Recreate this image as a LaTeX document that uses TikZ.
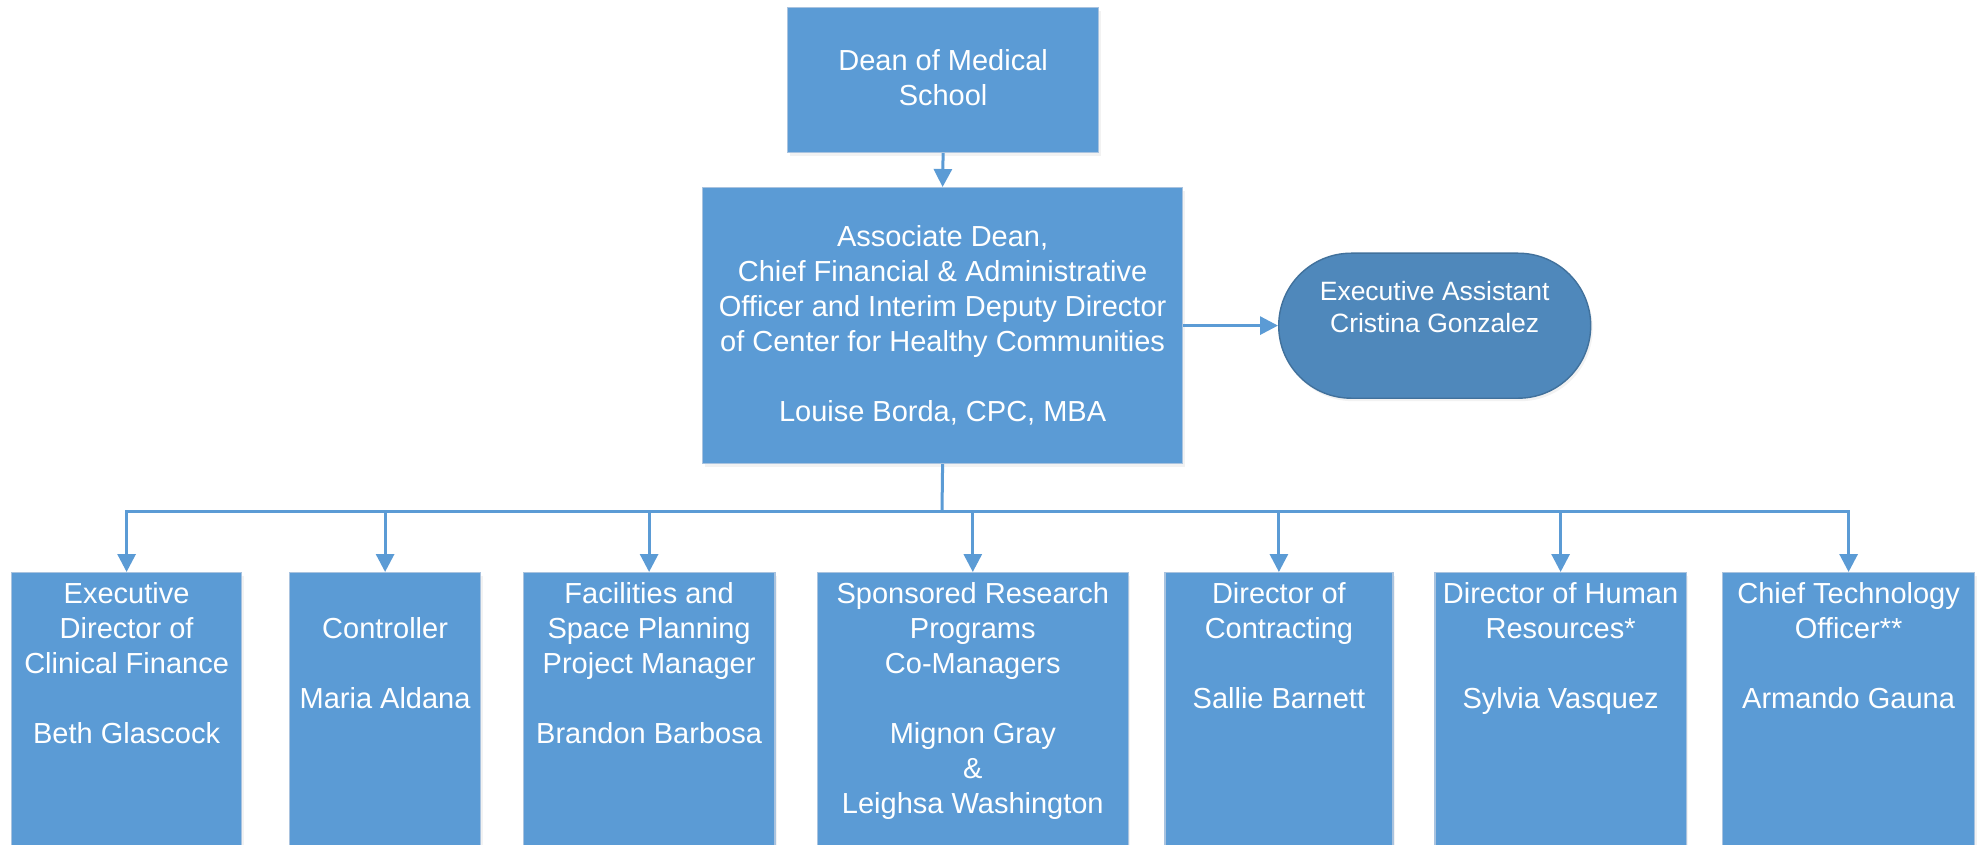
\documentclass[tikz,border=0pt]{standalone}
\usepackage{fontspec}
\setmainfont{Liberation Sans}
\usetikzlibrary{arrows.meta,shadows,calc}
\definecolor{boxblue}{HTML}{5B9BD5}
\definecolor{boxline}{HTML}{A9C3DF}
\definecolor{ellfill}{HTML}{4F88BB}
\definecolor{ellline}{HTML}{41719C}
\newcommand{\mylines}[1]{\begin{tabular}[t]{@{}c@{}}#1\end{tabular}}
\begin{document}
\begin{tikzpicture}[x=1pt,y=-1pt,
  shadowed/.style={drop shadow={opacity=0.10,shadow xshift=2pt,shadow yshift=-3pt}},
  box/.style={draw=boxline, line width=1.2pt, fill=boxblue, inner sep=0pt, anchor=north west, shadowed},
  pill/.style={draw=ellline, line width=1.4pt, fill=ellfill, inner sep=0pt, anchor=north west, rounded corners=72.5pt, shadowed},
  txt/.style={text=white, inner sep=0pt, anchor=base, font=\fontsize{29}{35}\selectfont},
  smalltxt/.style={txt, font=\fontsize{26.5}{32}\selectfont},
  wire/.style={draw=boxblue, line width=3pt},
  conn/.style={wire, -{Triangle[width=18pt,length=18pt]}}]
\useasboundingbox (0,0) rectangle (1982,845);
\fill[white] (0,0) rectangle (1982,845);
\clip (0,0) rectangle (1982,845);

% top boxes
\node[box, minimum width=311pt, minimum height=145pt] (dean) at (787,7) {};
\node[txt] (tdean) at ($(dean.north)+(0,64)$) {\mylines{Dean of Medical\\School}};

\node[box, minimum width=480pt, minimum height=276pt] (assoc) at (702,187) {};
\node[txt] (tassoc) at ($(assoc.north)+(0,59.5)$) {\mylines{Associate Dean,\\Chief Financial \& Administrative\\Officer and Interim Deputy Director\\of Center for Healthy Communities\\ \\Louise Borda, CPC, MBA}};

\node[pill, minimum width=312pt, minimum height=145pt] (ea) at (1278,252.5) {};
\node[smalltxt] (tea) at ($(ea.north)+(0,48)$) {\mylines{Executive Assistant\\Cristina Gonzalez}};

% bottom boxes
\node[box, minimum width=230pt, minimum height=320pt] (b1) at (11,572) {};
\node[box, minimum width=191pt, minimum height=320pt] (b2) at (289,572) {};
\node[box, minimum width=251.6pt, minimum height=320pt] (b3) at (522.7,572) {};
\node[box, minimum width=311pt, minimum height=320pt] (b4) at (816.7,572) {};
\node[box, minimum width=228pt, minimum height=320pt] (b5) at (1164.3,572) {};
\node[box, minimum width=251.4pt, minimum height=320pt] (b6) at (1434.3,572) {};
\node[box, minimum width=252pt, minimum height=320pt] (b7) at (1722,572) {};

\node[txt] (t1) at ($(b1.north)+(0,31)$) {\mylines{Executive\\Director of\\Clinical Finance\\ \\Beth Glascock}};
\node[txt] (t2) at ($(b2.north)+(0,66)$) {\mylines{Controller\\ \\Maria Aldana}};
\node[txt] (t3) at ($(b3.north)+(0,31)$) {\mylines{Facilities and\\Space Planning\\Project Manager\\ \\Brandon Barbosa}};
\node[txt] (t4) at ($(b4.north)+(0,31)$) {\mylines{Sponsored Research\\Programs\\Co-Managers\\ \\Mignon Gray\\\&\\Leighsa Washington}};
\node[txt] (t5) at ($(b5.north)+(0,31)$) {\mylines{Director of\\Contracting\\ \\Sallie Barnett}};
\node[txt] (t6) at ($(b6.north)+(0,31)$) {\mylines{Director of Human\\Resources*\\ \\Sylvia Vasquez}};
\node[txt] (t7) at ($(b7.north)+(0,31)$) {\mylines{Chief Technology\\Officer**\\ \\Armando Gauna}};

% connectors
\draw[conn] (dean.south) -- (assoc.north);
\draw[conn] (assoc.east) -- (assoc.east -| ea.west);
\coordinate (bus) at (942,511);
\draw[wire] (assoc.south) -- (bus);
\foreach \b in {b1,b2,b3,b4,b5,b6,b7}
  \draw[conn] (bus) -| (\b.north);
\end{tikzpicture}
\end{document}
